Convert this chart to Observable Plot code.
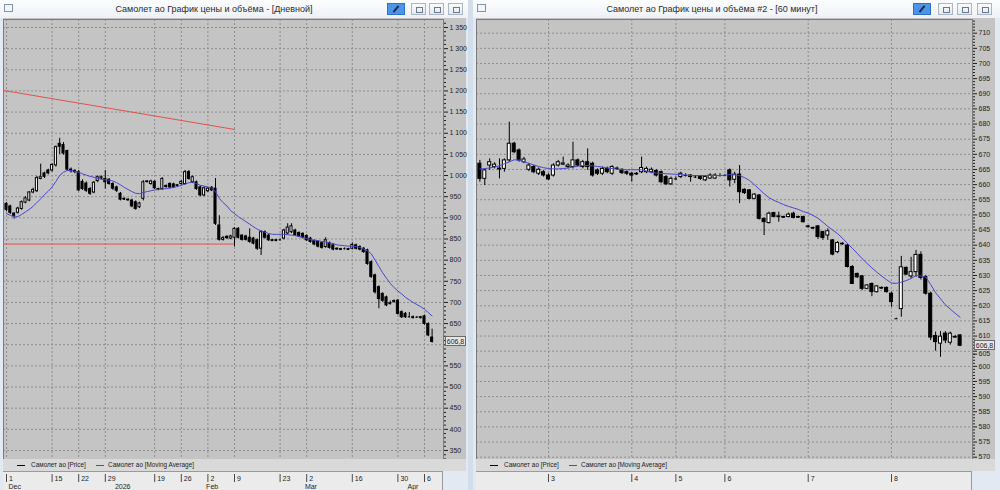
<!DOCTYPE html>
<html><head><meta charset="utf-8">
<script src="https://cdn.jsdelivr.net/npm/d3@7"></script>
<script src="https://cdn.jsdelivr.net/npm/@observablehq/plot@0.6"></script>
<style>
html,body{margin:0;padding:0}
body{width:1000px;height:490px;overflow:hidden;position:relative;background:#d3deeb;font-family:"Liberation Sans",Arial,sans-serif}
.win{position:absolute;top:0;height:490px;background:#e2e9f2}
.tbar{position:absolute;left:0;top:0;right:0;height:18px;background:linear-gradient(#fcfdfe,#edf1f7)}
.ttl{position:absolute;top:4px;font-size:9px;color:#2a2a2a;text-align:center;white-space:nowrap}
.icon{position:absolute;top:4px;width:9px;height:8px;border:1px solid #7d95b5;background:#f3f6fa;box-sizing:border-box}
.area{position:absolute;top:18px;height:441px;background:#c4c4c4}
.leg{position:absolute;top:459px;height:12px;background:#d9d9d9;font-size:6.4px;color:#222}
.leg span{position:absolute}
.dates{position:absolute;top:471px;height:19px;background:#ebebeb;border-top:1px solid #9a9a9a;box-sizing:border-box}
.btn{position:absolute;top:3px;width:15px;height:12px;border:1px solid #aab6c6;background:linear-gradient(#fcfcfc,#e5e8ed);box-sizing:border-box}
.btn i{position:absolute;left:4px;top:3px;width:5px;height:4px;border:1px solid #6a7a90}
.pin{background:#4d95e8;border-color:#2e70c5;width:18px}
.pin i{left:7px;top:1px;width:0;height:8px;border:none;border-left:2px solid #1b2a48;transform:rotate(40deg)}
.plot{position:absolute;left:0}
</style>
</head><body>

<div class="win" style="left:0;width:468px">
  <div class="tbar">
    <div class="icon" style="left:4px"></div>
    <div class="ttl" style="left:0;width:428px">Самолет ао График цены и объёма - [Дневной]</div>
    <div class="btn pin" style="left:387px"><i></i></div>
    <div class="btn" style="left:411px"><i></i></div>
    <div class="btn" style="left:429px"><i></i></div>
    <div class="btn" style="left:448px"><i></i></div>
  </div>
  <div class="area" style="left:3px;width:463px"></div>
  <div class="plot" id="plotL" style="top:18px"></div>
  <div class="leg" style="left:3px;width:463px">
    <span style="left:14px;top:6px;width:8px;border-top:1px solid #000"></span>
    <span style="left:28px;top:2px">Самолет ао [Price]</span>
    <span style="left:93px;top:6px;width:8px;border-top:1px solid #4848cc"></span>
    <span style="left:105px;top:2px">Самолет ао [Moving Average]</span>
  </div>
  <div class="dates" style="left:3px;width:440px;border-right:1px solid #9a9a9a"></div>
  <div class="plot" id="dateL" style="top:471px"></div>
</div>

<div class="win" style="left:473px;width:527px">
  <div class="tbar">
    <div class="icon" style="left:4px"></div>
    <div class="ttl" style="left:0;width:478px">Самолет ао График цены и объёма #2 - [60 минут]</div>
    <div class="btn pin" style="left:440px"><i></i></div>
    <div class="btn" style="left:465px"><i></i></div>
    <div class="btn" style="left:484px"><i></i></div>
    <div class="btn" style="left:504px"><i></i></div>
  </div>
  <div class="area" style="left:3px;width:519px"></div>
  <div class="plot" id="plotR" style="top:18px"></div>
  <div class="leg" style="left:3px;width:519px">
    <span style="left:14px;top:6px;width:8px;border-top:1px solid #000"></span>
    <span style="left:28px;top:2px">Самолет ао [Price]</span>
    <span style="left:93px;top:6px;width:8px;border-top:1px solid #4848cc"></span>
    <span style="left:105px;top:2px">Самолет ао [Moving Average]</span>
  </div>
  <div class="dates" style="left:3px;width:496px;border-right:1px solid #9a9a9a"></div>
  <div class="plot" id="dateR" style="top:471px"></div>
</div>

<script>
// ---------- Daily chart (left) ----------
const leftOpen = [933,927,910,912,921,936,941,960,963,992,1005,1012,1012,1024,1075,1072,1058,1014,1011,1008,985,981,968,960,987,993,992,990,980,972,957,945,943,941,937,925,945,985,980,985,968,968,975,980,979,976,980,980,1008,984,984,972,953,963,971,969,882,848,855,851,853,874,858,856,853,851,847,827,866,858,847,847,848,851,863,866,870,864,862,857,851,845,843,840,831,840,835,827,826,827,826,827,835,831,827,823,795,764,736,720,712,698,703,704,677,673,666,665,665,665,667,649,617];
const leftHigh = [936,930,912,925,940,950,962,970,998,1027,1008,1015,1028,1070,1088,1078,1060,1018,1014,1012,990,985,972,986,999,999,1012,993,983,975,960,947,945,944,940,937,988,988,989,988,970,995,978,983,982,979,988,1012,1012,999,987,975,973,972,974,993,905,856,858,859,877,877,860,859,874,854,850,870,869,861,849,849,850,873,886,886,873,867,865,860,854,848,846,843,853,843,838,829,828,829,828,841,838,834,830,826,798,767,739,723,715,703,706,707,680,676,676,668,667,667,670,652,637];
const leftLow = [915,908,897,909,918,933,938,957,960,990,993,1002,1008,1020,1050,1048,1010,1006,1004,962,965,960,953,957,983,990,968,977,965,960,940,941,940,924,918,922,940,982,977,967,964,965,970,969,970,973,977,977,989,981,965,950,950,960,962,882,845,845,849,848,831,850,845,845,840,836,823,811,850,844,844,844,845,848,860,863,856,853,850,844,840,834,829,826,828,826,822,824,823,824,823,824,824,822,816,788,757,720,685,700,690,694,698,670,662,662,663,661,662,661,646,619,604];
const leftClose = [919,912,905,922,937,946,960,966,994,996,997,1005,1025,1067,1068,1052,1014,1010,1008,965,968,964,957,983,996,996,984,980,969,964,943,944,942,927,921,934,984,986,986,970,967,992,973,972,972,977,985,1008,992,996,968,953,970,969,965,886,848,852,852,856,874,853,848,848,843,839,827,866,853,847,846,846,848,870,877,880,859,856,853,847,843,837,832,829,847,829,825,826,825,827,825,836,827,825,819,791,760,724,708,704,693,697,702,673,665,665,666,664,665,664,649,622,606.8];
const leftMA = [910,906,902,903,908,914,920,927,936,945,955,963,973,986,1000,1008,1012,1012,1010,1008,1004,1001,998,996,993,991,990,989,987,983,978,972,967,962,958,957,960,962,964,966,967,968,969,970,972,974,977,980,983,984,981,977,975,973,970,962,946,936,928,917,910,903,897,891,885,879,873,869,866,863,861,861,861,861,860,859,858,856,854,851,849,847,846,844,843,841,839,836,835,834,833,833,832,830,826,822,815,800,785,770,757,745,735,727,720,712,706,700,695,690,684,676,668];
const leftTickIdx = [0,12,19,26,39,46,53,60,72,79,91,103,110];
const leftTickLabels = ["1","15","22","29","19","26","2","9","23","2","16","30","6"];
const leftMonthIdx = [0,28,52,78,105];
const leftMonthLabels = ["Dec","2026","Feb","Mar","Apr"];
const leftPriceTicks = [350,400,450,500,550,600,650,700,750,800,850,900,950,1000,1050,1100,1150,1200,1250,1300,1350];
// drawn trend lines (candle index, price)
const redDiagIdx = [-1,60], redDiagPrice = [1201.5,1109];
const redFlatIdx = [-1,60], redFlatPrice = [838,838];

// ---------- 60-minute chart (right) ----------
const rightOpen = [666.9,661.9,666.3,665.8,665.3,665.2,668,673.5,671.3,667.4,
664.9,665.8,663.6,664.1,663,663,666.3,666.6,665.8,665.8,
668,665.8,667.4,666.9,664.7,663.6,665.2,663.6,665.2,664.9,
664.1,663.6,663.6,664.1,664.1,664.1,664.5,664.1,662.5,660.1,
661.9,662.5,663,663,662.5,662.5,661.4,662,662,663,
663,664.7,661.6,663.3,658.3,658.1,655.3,656.4,648.7,647.3,
650.6,649.5,649.3,649.3,650.4,649.3,649.3,646.2,645.7,646.2,
644.3,643.2,641.6,637.7,640.5,639.9,632.8,630.5,629.7,625.6,
627.2,624.5,625.9,625.9,624,615.7,618.9,632.5,629.7,631.1,
636.8,629.5,624,610,607.5,610.8,607.8,609.5,610.2];
const rightHigh = [668,665.2,668.5,667.2,668.5,668.5,680.6,674,671.8,669,
667,666.3,665.5,664.7,663.6,666.9,668,669.1,666.9,674,
668.5,668,671.8,667.4,665.2,665.8,665.8,666.3,665.8,665.2,
664.5,664,664,669.1,665.8,665.5,665,664.5,663,662.5,
662.5,664.1,663.6,663.3,663,663,663,663.6,663.6,663.6,
663.3,665.2,664.1,666.3,658.6,658.3,657,656.7,649,650.9,
650.9,650.9,649.6,650.6,650.9,649.6,649.6,646.5,646,646.5,
644.6,645.4,641.9,641.2,640.8,640.3,633.3,630.8,630,627,
627.5,626.7,626.2,626.2,624.5,615.9,636.3,632.8,636,638.3,
637.8,630,624.5,611.3,611.5,611.5,611.3,610.2,610.5];
const rightLow = [660.8,659.7,664.7,665.2,661.9,664.1,667.4,670.2,667.4,666.9,
664.3,663.6,663,662.5,661.4,662.5,665.8,666.3,665.2,665.2,
665.8,665.2,664.7,662.5,663,663,663.6,663,664.7,663.3,
663,660.8,663,663.6,663.6,663.6,662.5,660.3,659.7,659.7,
661.4,662,662.5,660.8,662,661.4,661,661.7,661.7,662.5,
662.7,659.2,660.3,653.7,656.7,655,655,648.3,643.2,647,
649,647.6,648.9,649,648.7,648.9,647.3,645.7,645.3,641.9,
641.6,641.6,636.5,637.2,640,632.5,627,629,625,625.3,
623,624.2,625.5,624.2,619.5,615.5,616.2,630,628.9,629.4,
628.5,623.5,608.5,605,603,607.5,607,609.2,606.5];
const rightClose = [661.9,664.7,667.4,666.6,665,668,673.5,670.7,668,668.3,
666.3,664.1,664.9,663,661.7,666.3,667.4,667,666.3,668,
666.3,667.4,665.8,663,663.6,665.2,664.1,665.8,665.3,663.8,
663.6,663,663.5,665.5,665.2,664.9,663,660.8,660.1,661.9,
661.9,663.6,663,662.5,662.5,661.9,662.5,663,663,663,
663,661.4,663.3,657.5,657.2,655.3,656.7,648.7,647.6,650.4,
649.3,649.4,649.2,650.1,649,649.2,647.6,646.1,645.6,642.7,
642.4,644.6,636.9,640.7,640.4,632.8,627.2,629.4,625.6,626.7,
624.5,626.4,625.8,624.5,621.2,615.7,632.7,630.3,631.1,636.8,
629.2,624,609.5,608,609.8,608.5,610.8,609.7,606.8];
const rightMA = [665.2,665.3,665.5,665.8,666.2,666.9,667.5,668.2,668.1,667.6,
667,666.5,666,665.6,665.3,665.2,665.2,665.3,665.5,665.8,
666.1,666.3,666.3,666.2,666,665.8,665.5,665.3,665.1,664.9,
664.9,664.9,664.9,664.9,664.5,664,663.8,663.7,663.6,663.5,
663.4,663.3,663.2,663,663,663,663,663,663,663,
663.1,663.3,663.2,663,662.3,661.4,660,658.5,657,655.7,
654.8,654.1,653.4,652.8,652.3,651.8,651.1,650.6,649.8,648.9,
647.6,646.2,645,643.8,642.3,640.6,639,637.3,635.6,634,
632.5,631.1,629.8,628.6,627.5,627.4,627.8,628.3,629,630,
629.8,629.5,627,624.3,622.3,620.3,618.9,617.5,616.2];
const rightTickIdx = [14,31,40,50,67,84];
const rightTickLabels = ["3","4","5","6","7","8"];
const rightMonthIdx = [];
const rightMonthLabels = [];
const rightPriceTicks = [570,575,580,585,590,595,600,605,610,615,620,625,630,635,640,645,650,655,660,665,670,675,680,685,690,695,700,705,710];
const lastPriceLabel = "606,8";

// ---------- rendering ----------
const FONT = "Liberation Sans, Arial, sans-serif";
const GRID = "#8e8e8e";
const MA_COLOR = "#4848cc";
const RED = "#e0524c";
const AXIS_FS = 7;
const spaceFmt = d3.formatLocale({decimal: ",", thousands: "\u00a0", grouping: [3], currency: ["", ""]}).format(",");

function makePanel(cfg) {
  const candles = cfg.open.map((o, k) => ({i: k, o, h: cfg.high[k], l: cfg.low[k], c: cfg.close[k]}));
  const ma = cfg.ma.map((v, k) => ({i: k, v}));
  const ticks = cfg.tickIdx.map((i, k) => ({i, label: cfg.tickLabels[k]}));
  const hw = cfg.hw;
  const lastClose = cfg.close[cfg.close.length - 1];
  const ppu = 440 / (cfg.yDomain[1] - cfg.yDomain[0]);
  // labels hidden or nudged by the last-price marker
  const dist = t => (lastClose - t) * ppu; // >0 : tick below marker
  const plainTicks = cfg.priceTicks.filter(t => Math.abs(dist(t)) >= 8);
  const nudgedTicks = cfg.priceTicks.filter(t => Math.abs(dist(t)) >= 4.5 && Math.abs(dist(t)) < 8);
  const minor = d3.range(Math.ceil(cfg.yDomain[0] / cfg.minorStep) * cfg.minorStep, cfg.yDomain[1], cfg.minorStep)
    .filter(v => !cfg.priceTicks.some(t => Math.abs(t - v) < 1e-6));
  const chart = Plot.plot({
    width: cfg.width, height: 441,
    marginTop: 1, marginBottom: 0, marginLeft: 3, marginRight: cfg.width - cfg.plotRight,
    x: {domain: cfg.xDomain, axis: null},
    y: {domain: cfg.yDomain, axis: null},
    style: {background: "transparent", fontFamily: FONT, fontSize: AXIS_FS + "px", color: "#1e1e1e", overflow: "visible"},
    marks: [
      Plot.ruleY(cfg.priceTicks, {stroke: GRID, strokeDasharray: "2,2"}),
      Plot.ruleX(ticks, {x: "i", stroke: GRID, strokeDasharray: "2,2"}),
      ...(cfg.extra || []),
      Plot.ruleX(candles, {x: "i", y1: "l", y2: "h", stroke: "#000"}),
      Plot.rect(candles, {x1: d => d.i - hw, x2: d => d.i + hw, y1: "o", y2: "c",
        fill: d => d.c > d.o ? "#ffffff" : "#000000", stroke: "#000", strokeWidth: 1}),
      Plot.ruleY(candles.filter(d => Math.abs(d.o - d.c) < cfg.dojiThr),
        {y: "c", x1: d => d.i - hw, x2: d => d.i + hw, stroke: "#000"}),
      Plot.line(ma, {x: "i", y: "v", stroke: MA_COLOR, strokeWidth: 1}),
      Plot.frame({stroke: "#7c7c7c"}),
      Plot.axisY({anchor: "right", ticks: plainTicks, tickSize: 4, tickPadding: 2,
        tickFormat: d => spaceFmt(d), fontSize: AXIS_FS}),
      Plot.axisY({anchor: "right", ticks: cfg.priceTicks.filter(t => !plainTicks.includes(t)), tickSize: 4, tickFormat: () => ""}),
      ...nudgedTicks.map(t => Plot.axisY({anchor: "right", ticks: [t], tickSize: 4, tickPadding: 2,
        tickFormat: d => spaceFmt(d), fontSize: AXIS_FS, dy: dist(t) > 0 ? 3 : -3})),
      Plot.axisY({anchor: "right", ticks: minor, tickSize: 2, tickFormat: () => ""})
    ]
  });
  // last-price marker on the price axis
  const sx = chart.scale("x"), sy = chart.scale("y");
  const yy = Math.round(sy.apply(lastClose));
  const xx = sx.range[1];
  const g = d3.select(chart).append("g");
  g.append("rect").attr("x", xx + 2.5).attr("y", yy - 4.5).attr("width", 20).attr("height", 9)
    .attr("fill", "#e6e6e6").attr("stroke", "#6a6a6a");
  g.append("text").attr("x", xx + 12.5).attr("y", yy + 2.5).attr("text-anchor", "middle")
    .attr("font-size", AXIS_FS + "px").attr("fill", "#1e1e1e").text(lastPriceLabel);
  return chart;
}

function makeDates(cfg) {
  const ticks = cfg.tickIdx.map((i, k) => ({i, label: cfg.tickLabels[k]}));
  const months = cfg.monthIdx.map((i, k) => ({i, label: cfg.monthLabels[k]}));
  return Plot.plot({
    width: cfg.width, height: 19,
    marginTop: 2, marginBottom: 0, marginLeft: 3, marginRight: cfg.width - cfg.plotRight,
    x: {domain: cfg.xDomain, axis: null},
    y: {type: "band", domain: ["d", "m"], axis: null, padding: 0},
    style: {background: "transparent", fontFamily: FONT, fontSize: "7px", color: "#1e1e1e", overflow: "visible"},
    marks: [
      Plot.tickX(ticks, {x: "i", y: () => "d", stroke: "#4a4a4a"}),
      Plot.text(ticks, {x: "i", y: () => "d", text: "label", textAnchor: "start", dx: 2.5, fill: "#1e1e1e"}),
      Plot.text(months, {x: "i", y: () => "m", text: "label", textAnchor: "start", dx: 2, fill: "#1e1e1e"})
    ]
  });
}

const leftX = [-0.79, 115];
const rightX = [-0.69, 100.53];
const leftY = [328.7, 1368.9];
const rightY = [569.24, 714.52];

const redDiag = redDiagIdx.map((i, k) => ({i, p: redDiagPrice[k]}));
const redFlat = redFlatIdx.map((i, k) => ({i, p: redFlatPrice[k]}));

document.getElementById("plotL").append(makePanel({
  open: leftOpen, high: leftHigh, low: leftLow, close: leftClose, ma: leftMA,
  tickIdx: leftTickIdx, tickLabels: leftTickLabels, priceTicks: leftPriceTicks,
  width: 468, plotRight: 443, xDomain: leftX, yDomain: leftY, hw: 0.27, minorStep: 10, dojiThr: 1.2,
  extra: [
    Plot.line(redDiag, {x: "i", y: "p", stroke: RED, strokeWidth: 1, clip: true}),
    Plot.line(redFlat, {x: "i", y: "p", stroke: RED, strokeWidth: 1, clip: true})
  ]
}));
document.getElementById("dateL").append(makeDates({
  tickIdx: leftTickIdx, tickLabels: leftTickLabels, monthIdx: leftMonthIdx, monthLabels: leftMonthLabels,
  width: 468, plotRight: 443, xDomain: leftX
}));
document.getElementById("plotR").append(makePanel({
  open: rightOpen, high: rightHigh, low: rightLow, close: rightClose, ma: rightMA,
  tickIdx: rightTickIdx, tickLabels: rightTickLabels, priceTicks: rightPriceTicks,
  width: 527, plotRight: 499, xDomain: rightX, yDomain: rightY, hw: 0.31, minorStep: 1, dojiThr: 0.2
}));
document.getElementById("dateR").append(makeDates({
  tickIdx: rightTickIdx, tickLabels: rightTickLabels, monthIdx: rightMonthIdx, monthLabels: rightMonthLabels,
  width: 527, plotRight: 499, xDomain: rightX
}));
</script>
</body></html>
